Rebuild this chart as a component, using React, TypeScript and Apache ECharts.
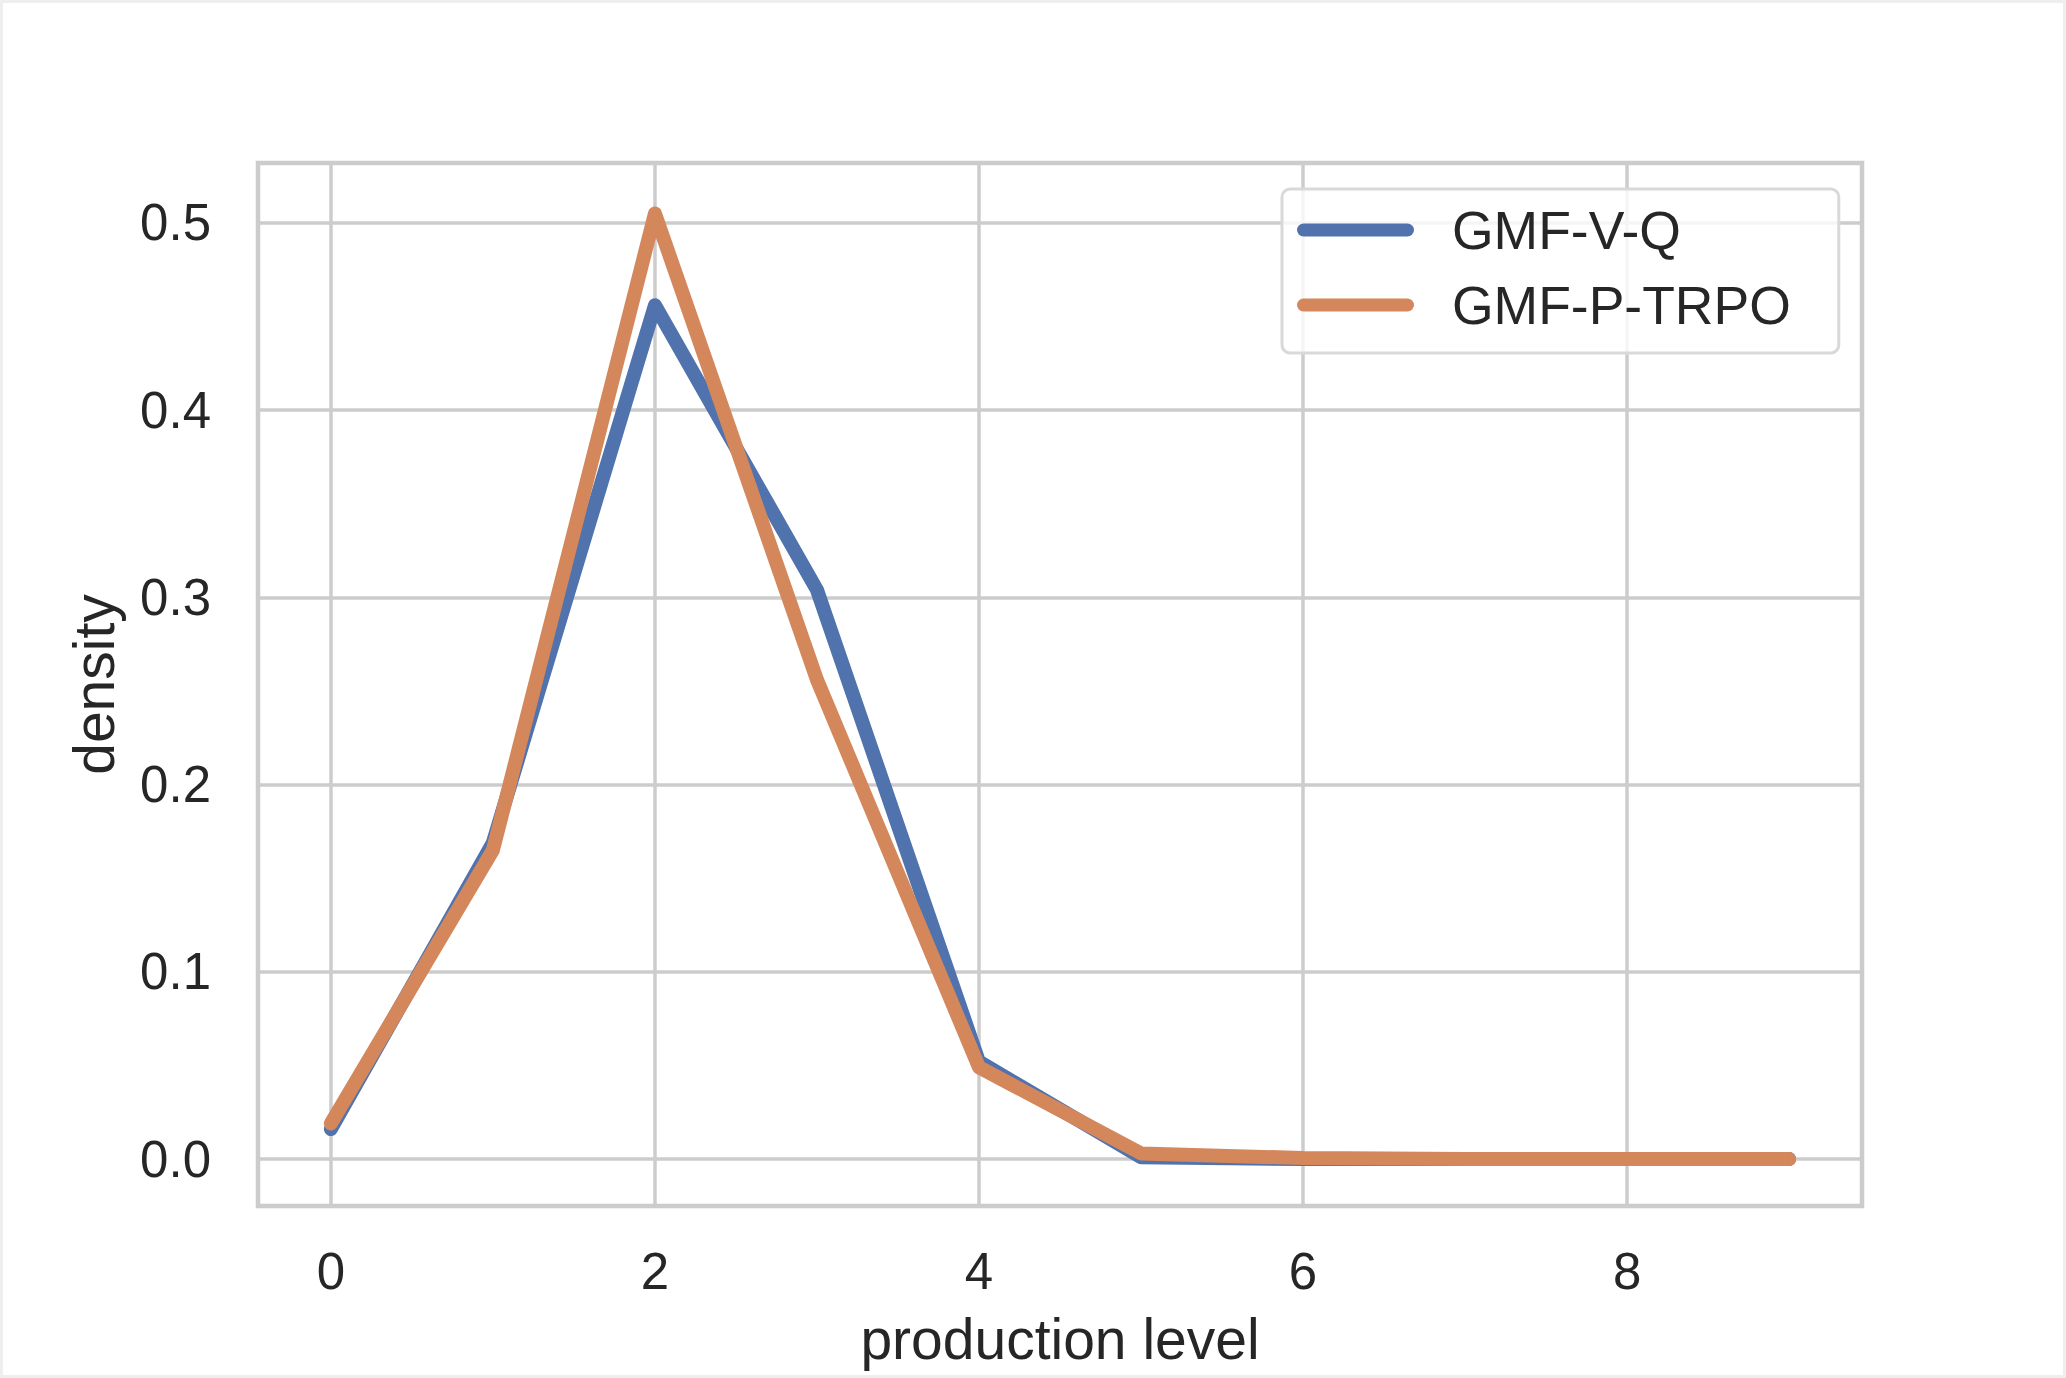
import React, { useEffect, useRef } from "react";
import * as echarts from "echarts";

const levels = [0, 1, 2, 3, 4, 5, 6, 7, 8, 9];
const gmfVQ = [0.016, 0.169, 0.456, 0.304, 0.052, 0.001, 0.0, 0.0, 0.0, 0.0];
const gmfPTRPO = [0.019, 0.165, 0.505, 0.256, 0.049, 0.003, 0.0005, 0.0, 0.0, 0.0];
const seriesNames = ["GMF-V-Q", "GMF-P-TRPO"];
const xTicks = [0, 2, 4, 6, 8];
const yTicks = [0, 0.1, 0.2, 0.3, 0.4, 0.5];

const FONT = "'Liberation Sans', Arial, sans-serif";
const TEXT = "#262626";
const GRID = "#cccccc";
const BLUE = "#5073AE";
const ORANGE = "#D4875B";

const CAPSULE =
  "path://M6.5,0 L110.5,0 A6.5,6.5 0 0 1 110.5,13 L6.5,13 A6.5,6.5 0 0 1 6.5,0 Z";

export default function App() {
  const ref = useRef<HTMLDivElement>(null);

  useEffect(() => {
    if (!ref.current) return;
    const chart = echarts.init(ref.current, null, { renderer: "svg" });
    const toPairs = (vals: number[]) => levels.map((x, i) => [x, vals[i]]);
    chart.setOption({
      animation: false,
      backgroundColor: "#ffffff",
      textStyle: { fontFamily: FONT },
      graphic: [
        {
          type: "rect",
          silent: true,
          shape: { x: 1.5, y: 1.5, width: 2063, height: 1375 },
          style: { fill: "none", stroke: "#eeeeee", lineWidth: 3 },
          z: 100,
        },
      ],
      grid: {
        left: 258,
        right: 204,
        top: 163,
        bottom: 172,
        show: true,
        borderColor: GRID,
        borderWidth: 4.5,
        backgroundColor: "transparent",
        containLabel: false,
      },
      legend: {
        orient: "vertical",
        left: 1282,
        top: 189,
        padding: [11, 48, 18, 15],
        itemWidth: 117,
        itemHeight: 13,
        itemGap: 15,
        icon: CAPSULE,
        backgroundColor: "rgba(255,255,255,0.8)",
        borderColor: "#d9d9d9",
        borderWidth: 3,
        borderRadius: 8,
        textStyle: {
          fontSize: 53.5,
          fontFamily: FONT,
          color: TEXT,
          lineHeight: 60,
          padding: [0, 0, 0, 33],
        },
        data: seriesNames,
      },
      xAxis: {
        type: "value",
        min: -0.45,
        max: 9.45,
        name: "production level",
        nameLocation: "middle",
        nameGap: 104,
        nameTextStyle: { fontSize: 57, color: TEXT, fontFamily: FONT },
        axisLine: { show: false },
        axisTick: { show: false, customValues: xTicks },
        axisLabel: {
          customValues: xTicks,
          fontSize: 51,
          color: TEXT,
          fontFamily: FONT,
          margin: 40,
          formatter: (v: number) => String(v),
        },
        splitLine: { show: true, lineStyle: { color: GRID, width: 3.5 } },
      },
      yAxis: {
        type: "value",
        min: -0.0251,
        max: 0.532,
        name: "density",
        nameLocation: "middle",
        nameGap: 136,
        nameTextStyle: { fontSize: 57, color: TEXT, fontFamily: FONT },
        axisLine: { show: false },
        axisTick: { show: false, customValues: yTicks },
        axisLabel: {
          customValues: yTicks,
          fontSize: 51,
          color: TEXT,
          fontFamily: FONT,
          margin: 47,
          formatter: (v: number) => v.toFixed(1),
        },
        splitLine: { show: true, lineStyle: { color: GRID, width: 3.5 } },
      },
      series: [
        {
          name: seriesNames[0],
          type: "line",
          data: toPairs(gmfVQ),
          showSymbol: false,
          symbol: "none",
          color: BLUE,
          lineStyle: { color: BLUE, width: 14, cap: "round", join: "round" },
          z: 3,
        },
        {
          name: seriesNames[1],
          type: "line",
          data: toPairs(gmfPTRPO),
          showSymbol: false,
          symbol: "none",
          color: ORANGE,
          lineStyle: { color: ORANGE, width: 14, cap: "round", join: "round" },
          z: 4,
        },
      ],
    });
    return () => chart.dispose();
  }, []);

  return (
    <div
      ref={ref}
      style={{ position: "fixed", left: 0, top: 0, width: 2066, height: 1378 }}
    />
  );
}
